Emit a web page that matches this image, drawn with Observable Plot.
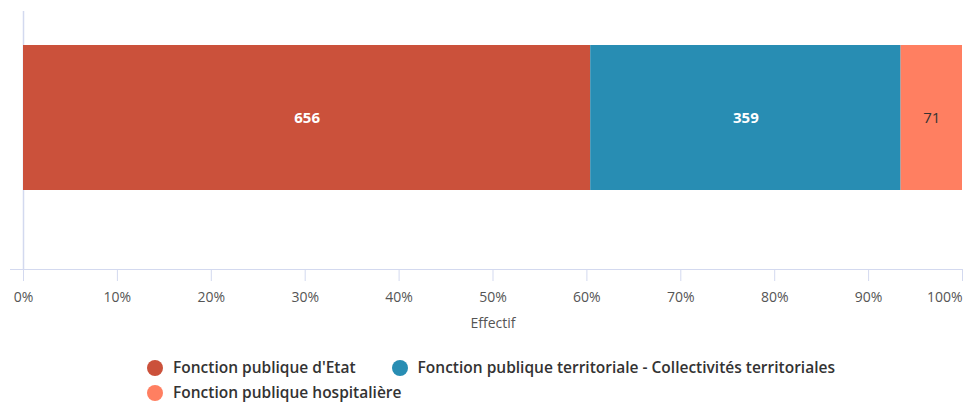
<!DOCTYPE html>
<html><head><meta charset="utf-8">
<script src="https://cdn.jsdelivr.net/npm/d3@7"></script>
<script src="https://cdn.jsdelivr.net/npm/@observablehq/plot@0.6"></script>
<style>
body{margin:0;background:#fff;font-family:"Open Sans",sans-serif;}
#legend{display:flex;flex-wrap:wrap;margin-left:147px;width:720px;column-gap:36px;row-gap:6px;margin-top:18px;}
.item{display:flex;align-items:center;font-size:15.5px;font-weight:600;color:#333;line-height:19px;}
.dot{width:16px;height:16px;border-radius:50%;margin-right:10px;}
</style></head>
<body>
<div id="chart"></div>
<div id="legend"></div>
<script>
const categories = ["Fonction publique d'Etat", "Fonction publique territoriale - Collectivités territoriales", "Fonction publique hospitalière"];
const values = [656, 359, 71];
const colors = ["#cb513b", "#288db3", "#ff7f61"];
const labelColors = ["#ffffff", "#ffffff", "#333333"];
const boldLabel = [true, true, false];
const row = "Effectif";

const data = categories.map((c, i) => ({cat: c, value: values[i], row, lc: labelColors[i], bold: boldLabel[i]}));

const axisColor = "#d3d9ef";
const chart = Plot.plot({
  width: 964,
  height: 340,
  marginTop: 11,
  marginBottom: 71,
  marginLeft: 23,
  marginRight: 2,
  style: {fontFamily: "Open Sans, sans-serif", fontSize: "14px", color: "#555"},
  x: {domain: [0, 1]},
  y: {domain: [row], range: [45, 190], padding: 0, axis: null},
  color: {domain: categories, range: colors},
  marks: [
    Plot.ruleX([0], {stroke: axisColor, strokeWidth: 1.5}),
    Plot.barX(data, Plot.stackX({x: "value", y: "row", fill: "cat", offset: "normalize", order: null})),
    Plot.text(data, Plot.stackX({x: "value", y: "row", text: d => d.bold ? String(d.value) : "", fill: "lc", offset: "normalize", order: null, fontWeight: "bold", fontSize: 15})),
    Plot.text(data, Plot.stackX({x: "value", y: "row", text: d => d.bold ? "" : String(d.value), fill: "lc", offset: "normalize", order: null, fontSize: 15})),
    Plot.frame({anchor: "bottom", stroke: axisColor, insetLeft: -13}),
    Plot.axisX({ticks: d3.range(0, 1.0001, 0.1), tickFormat: d => Math.round(d * 100) + "%", tickSize: 12, tickPadding: 11, stroke: axisColor, fontSize: 14, label: "Effectif", labelAnchor: "center", labelOffset: 58, labelArrow: "none"})
  ]
});
chart.querySelectorAll("text").forEach(t => { if (!t.getAttribute("fill")) t.setAttribute("fill", "#555"); });
const tickTexts = chart.querySelectorAll("[aria-label='x-axis tick label'] text");
if (tickTexts.length) {
  const last = tickTexts[tickTexts.length - 1];
  last.setAttribute("text-anchor", "end");
}
document.getElementById("chart").appendChild(chart);

const lg = document.getElementById("legend");
categories.forEach((c, i) => {
  const it = document.createElement("div");
  it.className = "item";
  it.innerHTML = `<span class="dot" style="background:${colors[i]}"></span><span>${c}</span>`;
  lg.appendChild(it);
});
</script>
</body></html>
